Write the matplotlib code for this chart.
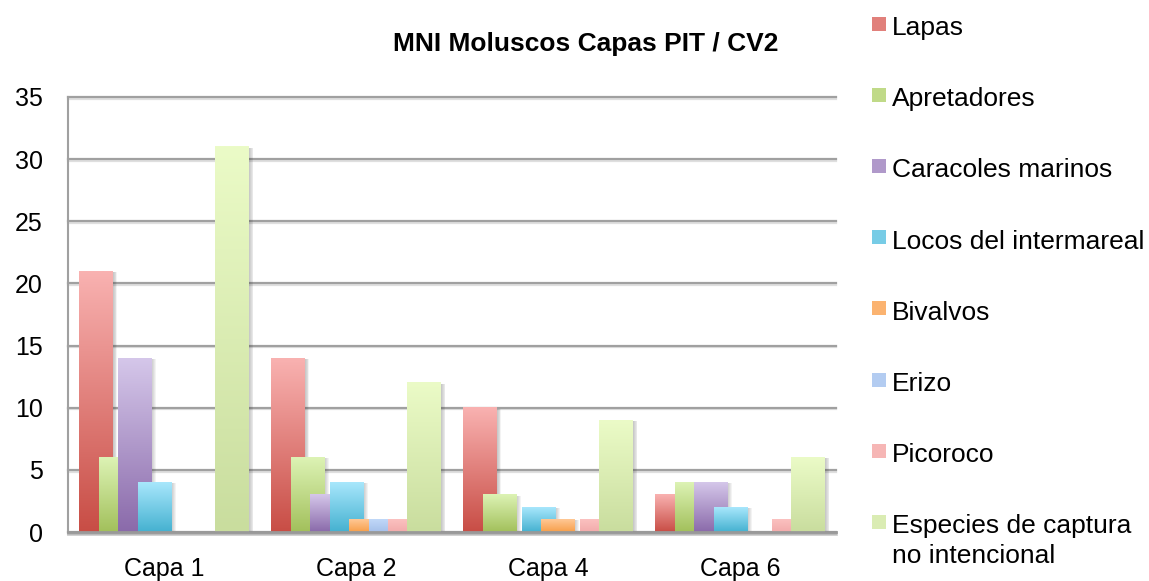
import matplotlib
matplotlib.use("Agg")
import matplotlib.pyplot as plt
import matplotlib.patheffects as pe
from matplotlib.colors import LinearSegmentedColormap, to_rgb
from matplotlib.patches import Rectangle
import numpy as np

capas = ["Capa 1", "Capa 2", "Capa 4", "Capa 6"]
series = ["Lapas", "Apretadores", "Caracoles marinos", "Locos del intermareal",
          "Bivalvos", "Erizo", "Picoroco", "Especies de captura\nno intencional"]

# MNI por capa
lapas = [21, 14, 10, 3]
apretadores = [6, 6, 3, 4]
caracoles = [14, 3, 0, 4]
locos = [4, 4, 2, 2]
bivalvos = [0, 1, 1, 0]
erizo = [0, 1, 0, 0]
picoroco = [0, 1, 1, 1]
especies = [31, 12, 9, 6]
valores = [lapas, apretadores, caracoles, locos, bivalvos, erizo, picoroco, especies]

# degradado: color arriba / color abajo
tops = ["#F9B2B1", "#DDF3B5", "#D5C7EA", "#A8E7FC", "#FFC896", "#C1D8F8", "#FBC1C0", "#EBFBC7"]
bottoms = ["#C84D45", "#A2C05B", "#8A6AAA", "#45B1D0", "#F79F4A", "#A5C0EA", "#F2ABAB", "#C9DD9E"]

W, H = 1149, 581
plt.rcParams['font.family'] = ['Liberation Sans', 'DejaVu Sans']
fig = plt.figure(figsize=(W / 100, H / 100), dpi=100)
ax = fig.add_axes([68 / W, 1 - 532 / H, (836 - 68) / W, (532 - 97) / H])

x = np.arange(len(capas))
step = 0.1012
width = 0.173
sombra = [pe.SimplePatchShadow(offset=(d, -0.6), shadow_rgbFace="0.2", alpha=0.06)
          for d in (0.7, 1.4, 2.1, 2.8, 3.5)] + [pe.Normal()]
grad = np.linspace(0, 1, 256).reshape(-1, 1)

for i, vals in enumerate(valores):
    cmap = LinearSegmentedColormap.from_list(f"g{i}", [bottoms[i], tops[i]])
    bars = ax.bar(x + (i - 3.5) * step, vals, width, color=bottoms[i],
                  linewidth=0, zorder=3 + 2 * i)
    for b in bars:
        h = b.get_height()
        if h <= 0:
            b.set_visible(False)
            continue
        b.set_path_effects(sombra)
        x0 = b.get_x()
        ax.imshow(grad, cmap=cmap, origin="lower", aspect="auto",
                  extent=(x0, x0 + b.get_width(), 0, h),
                  interpolation="bilinear", zorder=4 + 2 * i)

ax.set_xlim(-0.5, 3.5)
ax.set_ylim(0, 35)
ax.set_yticks(range(0, 36, 5))
ax.set_xticks(x)
ax.set_xticklabels(capas)
ax.tick_params(length=0, pad=18, labelsize=18)

ax.set_axisbelow(True)
ax.yaxis.grid(True, color="#A0A0A0", linewidth=1.6)
for g in ax.yaxis.get_gridlines():
    g.set_clip_on(False)
    g.set_path_effects([pe.SimpleLineShadow(offset=(0, -1.2), shadow_color="0.5", alpha=0.25),
                        pe.Normal()])

for s in ("top", "right"):
    ax.spines[s].set_visible(False)
ax.spines["left"].set_color("#A0A0A0")
ax.spines["left"].set_linewidth(1.5)
ax.spines["bottom"].set_color("#999999")
ax.spines["bottom"].set_linewidth(2)
ax.spines["bottom"].set_zorder(30)
ax.spines["bottom"].set_path_effects([pe.SimpleLineShadow(offset=(0, -1.5), shadow_color="0.4", alpha=0.3),
                                      pe.Normal()])

fig.text(586 / W, 1 - 44 / H, "MNI Moluscos Capas PIT / CV2", ha="center", va="center",
         fontsize=19, fontweight="bold")

# leyenda a la derecha
for i, nombre in enumerate(series):
    cy = 23.5 + 71.2 * i
    c = 0.5 * (np.array(to_rgb(tops[i])) + np.array(to_rgb(bottoms[i])))
    fig.add_artist(Rectangle((872 / W, 1 - (cy + 7) / H), 14 / W, 14 / H,
                             transform=fig.transFigure, facecolor=c, linewidth=0))
    for k, linea in enumerate(nombre.split("\n")):
        fig.text(892 / W, 1 - (cy + 11.5 + 29.5 * k) / H, linea, va="baseline", ha="left",
                 fontsize=19)

fig.savefig("out.png", dpi=100)
